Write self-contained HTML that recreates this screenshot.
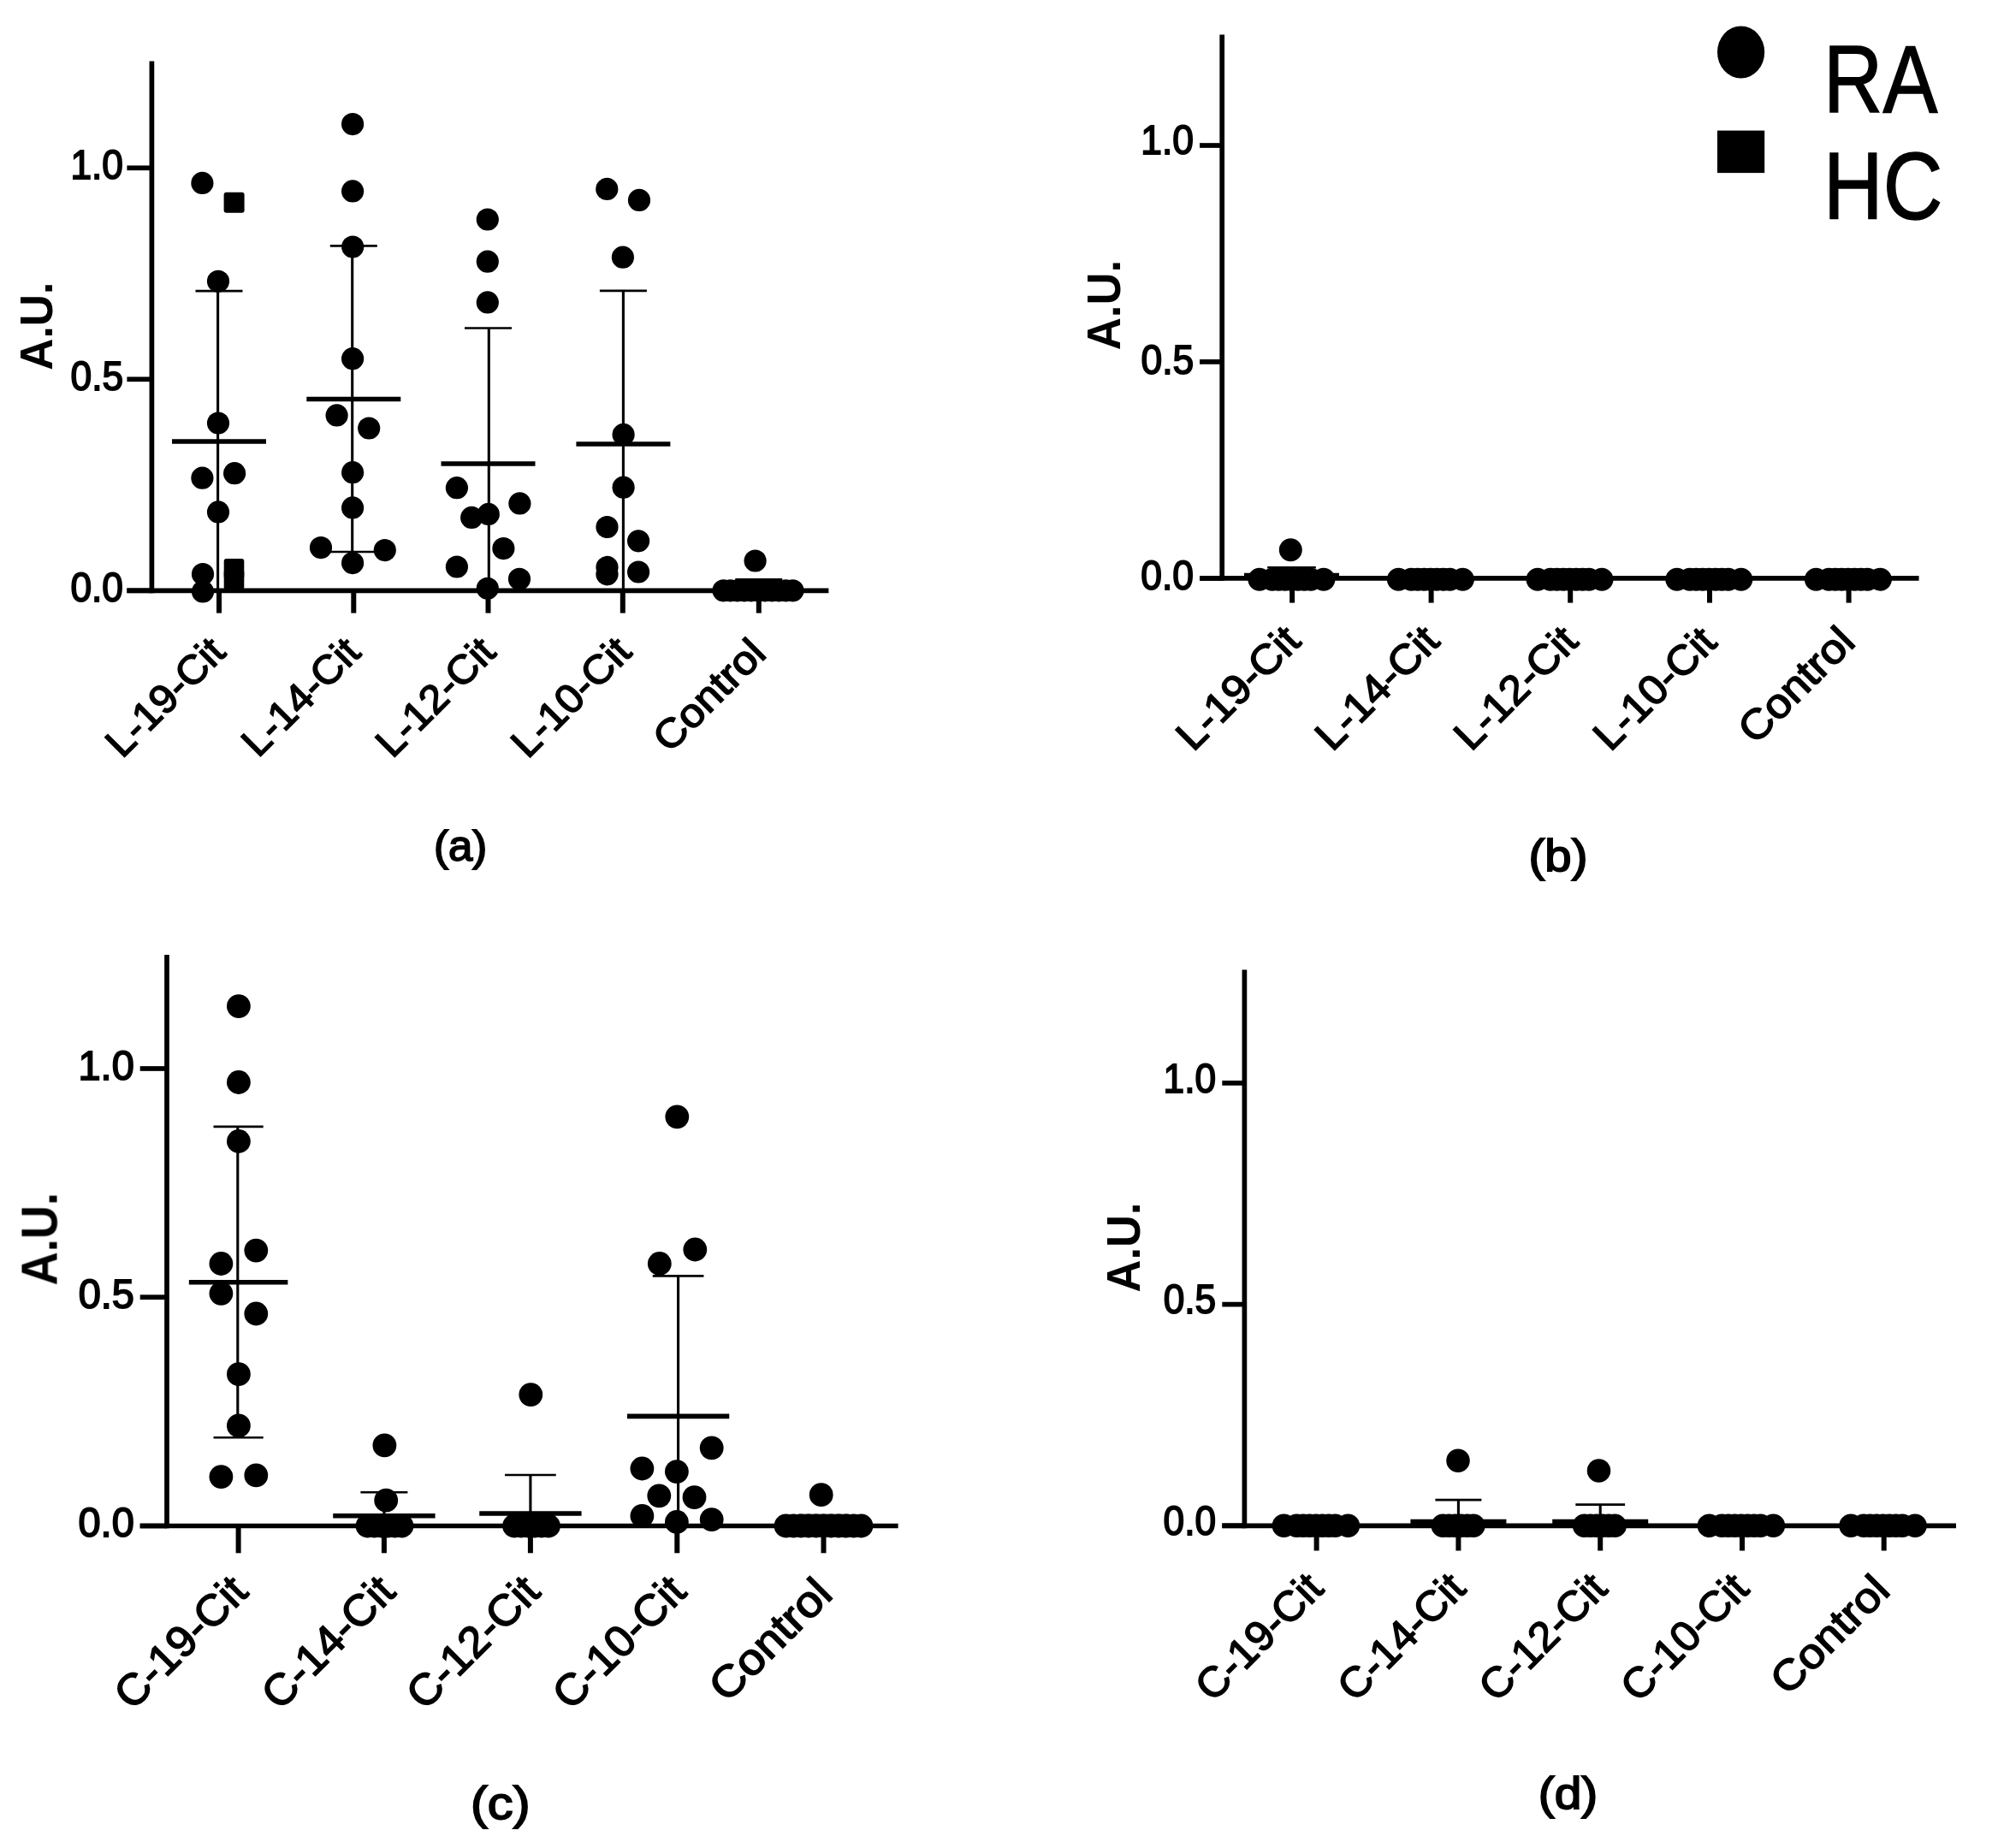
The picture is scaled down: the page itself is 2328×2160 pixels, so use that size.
<!DOCTYPE html>
<html lang="en"><head><meta charset="utf-8"><title>Figure</title>
<style>html,body{margin:0;padding:0;background:#fff}body{width:2328px;height:2160px;overflow:hidden}svg{display:block}text{font-kerning:none;white-space:pre}</style>
</head><body>
<svg width="2328" height="2160" viewBox="0 0 2328 2160" fill="#000">
<rect x="0" y="0" width="2328" height="2160" fill="#fff"/>
<defs><filter id="soft" x="0" y="0" width="100%" height="100%" filterUnits="userSpaceOnUse" color-interpolation-filters="sRGB"><feGaussianBlur stdDeviation="0.7"/></filter></defs>
<g filter="url(#soft)">
<g id="panel-a">
<line x1="177.4" y1="71.5" x2="177.4" y2="693.15" stroke="#000" stroke-width="5.7"/>
<line x1="148.4" y1="690.3" x2="968.4" y2="690.3" stroke="#000" stroke-width="5.7"/>
<line x1="148.4" y1="196.3" x2="177.4" y2="196.3" stroke="#000" stroke-width="5.7"/>
<text transform="translate(82.42,209.3) scale(0.9389,1)" font-family="Liberation Sans, Arial, Helvetica, sans-serif" font-size="47.2" stroke="#000" stroke-width="1.8">1.0</text>
<line x1="148.4" y1="443.3" x2="177.4" y2="443.3" stroke="#000" stroke-width="5.7"/>
<text transform="translate(82.55,456.3) scale(0.9389,1)" font-family="Liberation Sans, Arial, Helvetica, sans-serif" font-size="47.2" stroke="#000" stroke-width="1.8">0.5</text>
<line x1="148.4" y1="690.3" x2="177.4" y2="690.3" stroke="#000" stroke-width="5.7"/>
<text transform="translate(82.42,703.3) scale(0.9389,1)" font-family="Liberation Sans, Arial, Helvetica, sans-serif" font-size="47.2" stroke="#000" stroke-width="1.8">0.0</text>
<line x1="256" y1="690.3" x2="256" y2="716.6" stroke="#000" stroke-width="6"/>
<text transform="translate(142.81,887.57) rotate(-45) scale(1.0392,1)" font-family="Liberation Sans, Arial, Helvetica, sans-serif" font-size="47" stroke="#000" stroke-width="1.6">L-19-Cit</text>
<line x1="413.3" y1="690.3" x2="413.3" y2="716.6" stroke="#000" stroke-width="6"/>
<text transform="translate(301.63,886.75) rotate(-45) scale(1.0306,1)" font-family="Liberation Sans, Arial, Helvetica, sans-serif" font-size="47" stroke="#000" stroke-width="1.6">L-14-Cit</text>
<line x1="570.5" y1="690.3" x2="570.5" y2="716.6" stroke="#000" stroke-width="6"/>
<text transform="translate(458.5,887.48) rotate(-45) scale(1.0401,1)" font-family="Liberation Sans, Arial, Helvetica, sans-serif" font-size="47" stroke="#000" stroke-width="1.6">L-12-Cit</text>
<line x1="727.8" y1="690.3" x2="727.8" y2="716.6" stroke="#000" stroke-width="6"/>
<text transform="translate(616.74,887.94) rotate(-45) scale(1.0454,1)" font-family="Liberation Sans, Arial, Helvetica, sans-serif" font-size="47" stroke="#000" stroke-width="1.6">L-10-Cit</text>
<line x1="886.8" y1="690.3" x2="886.8" y2="716.6" stroke="#000" stroke-width="6"/>
<text transform="translate(782.43,881.22) rotate(-45) scale(1.0735,1)" font-family="Liberation Sans, Arial, Helvetica, sans-serif" font-size="47" stroke="#000" stroke-width="1.6">Control</text>
<text transform="translate(60.8,432.78) rotate(-90) scale(0.9470,1)" font-family="Liberation Sans, Arial, Helvetica, sans-serif" font-weight="bold" font-size="54.4">A.U.</text>
<text transform="translate(506.94,1006.4) scale(1.0098,1)" font-family="Liberation Sans, Arial, Helvetica, sans-serif" font-size="50.5" stroke="#000" stroke-width="1.8">(a)</text>
<line x1="228.5" y1="340.1" x2="283.5" y2="340.1" stroke="#000" stroke-width="2.6"/>
<line x1="254.6" y1="340.1" x2="254.6" y2="690.3" stroke="#000" stroke-width="3.1"/>
<line x1="201" y1="516" x2="311" y2="516" stroke="#000" stroke-width="5.6"/>
<line x1="385.8" y1="287.4" x2="440.8" y2="287.4" stroke="#000" stroke-width="2.6"/>
<line x1="385.8" y1="645" x2="440.8" y2="645" stroke="#000" stroke-width="2.6"/>
<line x1="411.7" y1="287.4" x2="411.7" y2="645" stroke="#000" stroke-width="3.1"/>
<line x1="358.3" y1="466.5" x2="468.3" y2="466.5" stroke="#000" stroke-width="5.6"/>
<line x1="543" y1="383.5" x2="598" y2="383.5" stroke="#000" stroke-width="2.6"/>
<line x1="571.3" y1="383.5" x2="571.3" y2="690.3" stroke="#000" stroke-width="3.1"/>
<line x1="515.5" y1="542" x2="625.5" y2="542" stroke="#000" stroke-width="5.6"/>
<line x1="700.9" y1="339.9" x2="755.9" y2="339.9" stroke="#000" stroke-width="2.6"/>
<line x1="728.4" y1="339.9" x2="728.4" y2="690.3" stroke="#000" stroke-width="3.1"/>
<line x1="673.4" y1="519" x2="783.4" y2="519" stroke="#000" stroke-width="5.6"/>
<line x1="859.3" y1="677.3" x2="914.3" y2="677.3" stroke="#000" stroke-width="2.6"/>
<line x1="886.8" y1="677.3" x2="886.8" y2="690.3" stroke="#000" stroke-width="3.1"/>
<line x1="836.8" y1="687" x2="936.8" y2="687" stroke="#000" stroke-width="5.6"/>
<circle cx="236.4" cy="213.9" r="13.1"/>
<circle cx="255" cy="328.8" r="13.1"/>
<circle cx="255" cy="494.5" r="13.1"/>
<circle cx="236.4" cy="558.7" r="13.1"/>
<circle cx="274.1" cy="553.2" r="13.1"/>
<circle cx="255" cy="598.4" r="13.1"/>
<circle cx="237" cy="671" r="13.1"/>
<circle cx="237" cy="691.5" r="13.1"/>
<circle cx="412.1" cy="145.1" r="13.1"/>
<circle cx="412.1" cy="223.4" r="13.1"/>
<circle cx="412.2" cy="288.5" r="13.1"/>
<circle cx="412.1" cy="419.2" r="13.1"/>
<circle cx="393.6" cy="485.4" r="13.1"/>
<circle cx="431.2" cy="500.5" r="13.1"/>
<circle cx="412.1" cy="552.2" r="13.1"/>
<circle cx="412.1" cy="593.4" r="13.1"/>
<circle cx="375" cy="640.1" r="13.1"/>
<circle cx="449.8" cy="643.1" r="13.1"/>
<circle cx="412.1" cy="658.1" r="13.1"/>
<circle cx="569.8" cy="256.5" r="13.1"/>
<circle cx="569.8" cy="305.7" r="13.1"/>
<circle cx="569.8" cy="353.4" r="13.1"/>
<circle cx="533.9" cy="570.2" r="13.1"/>
<circle cx="607.4" cy="588.4" r="13.1"/>
<circle cx="551.2" cy="604.9" r="13.1"/>
<circle cx="570.8" cy="600.9" r="13.1"/>
<circle cx="588.4" cy="641.1" r="13.1"/>
<circle cx="533.9" cy="662.5" r="13.1"/>
<circle cx="607" cy="676.8" r="13.1"/>
<circle cx="569.8" cy="687.8" r="13.1"/>
<circle cx="709.3" cy="220.9" r="13.1"/>
<circle cx="747" cy="233.9" r="13.1"/>
<circle cx="727.9" cy="300.7" r="13.1"/>
<circle cx="728.6" cy="507.9" r="13.1"/>
<circle cx="728.6" cy="569.7" r="13.1"/>
<circle cx="709.5" cy="616" r="13.1"/>
<circle cx="746.1" cy="632.3" r="13.1"/>
<circle cx="709.5" cy="662.9" r="13.1"/>
<circle cx="709.5" cy="671.3" r="13.1"/>
<circle cx="746.1" cy="668.5" r="13.1"/>
<circle cx="882.6" cy="655.5" r="13.1"/>
<circle cx="845.5" cy="690.3" r="13.1"/>
<circle cx="853.6" cy="690.3" r="13.1"/>
<circle cx="861.7" cy="690.3" r="13.1"/>
<circle cx="869.8" cy="690.3" r="13.1"/>
<circle cx="877.9" cy="690.3" r="13.1"/>
<circle cx="886" cy="690.3" r="13.1"/>
<circle cx="894.1" cy="690.3" r="13.1"/>
<circle cx="902.2" cy="690.3" r="13.1"/>
<circle cx="910.3" cy="690.3" r="13.1"/>
<circle cx="918.4" cy="690.3" r="13.1"/>
<circle cx="926.5" cy="690.3" r="13.1"/>
<rect x="261.6" y="224.8" width="24" height="24" rx="3"/>
<rect x="261.7" y="653" width="23.6" height="23.6" rx="3"/>
<rect x="261.7" y="665.7" width="23.6" height="23.6" rx="3"/>
</g>
<g id="panel-b">
<line x1="1428.2" y1="40.5" x2="1428.2" y2="678.75" stroke="#000" stroke-width="5.7"/>
<line x1="1402" y1="675.9" x2="2242.6" y2="675.9" stroke="#000" stroke-width="5.7"/>
<line x1="1402" y1="170" x2="1428.2" y2="170" stroke="#000" stroke-width="5.7"/>
<text transform="translate(1333.32,180.4) scale(0.9406,1)" font-family="Liberation Sans, Arial, Helvetica, sans-serif" font-size="47.2" stroke="#000" stroke-width="1.8">1.0</text>
<line x1="1402" y1="422.9" x2="1428.2" y2="422.9" stroke="#000" stroke-width="5.7"/>
<text transform="translate(1333.45,436.6) scale(0.9406,1)" font-family="Liberation Sans, Arial, Helvetica, sans-serif" font-size="47.2" stroke="#000" stroke-width="1.8">0.5</text>
<line x1="1402" y1="675.9" x2="1428.2" y2="675.9" stroke="#000" stroke-width="5.7"/>
<text transform="translate(1333.32,689.1) scale(0.9406,1)" font-family="Liberation Sans, Arial, Helvetica, sans-serif" font-size="47.2" stroke="#000" stroke-width="1.8">0.0</text>
<line x1="1510.1" y1="675.9" x2="1510.1" y2="704.6" stroke="#000" stroke-width="6"/>
<text transform="translate(1394.43,879.55) rotate(-45) scale(1.0504,1)" font-family="Liberation Sans, Arial, Helvetica, sans-serif" font-size="48.41" stroke="#000" stroke-width="1.6">L-19-Cit</text>
<line x1="1672.6" y1="675.9" x2="1672.6" y2="704.6" stroke="#000" stroke-width="6"/>
<text transform="translate(1556.94,879.44) rotate(-45) scale(1.0487,1)" font-family="Liberation Sans, Arial, Helvetica, sans-serif" font-size="48.41" stroke="#000" stroke-width="1.6">L-14-Cit</text>
<line x1="1835.2" y1="675.9" x2="1835.2" y2="704.6" stroke="#000" stroke-width="6"/>
<text transform="translate(1719.33,879.21) rotate(-45) scale(1.0448,1)" font-family="Liberation Sans, Arial, Helvetica, sans-serif" font-size="48.41" stroke="#000" stroke-width="1.6">L-12-Cit</text>
<line x1="1998" y1="675.9" x2="1998" y2="704.6" stroke="#000" stroke-width="6"/>
<text transform="translate(1882.05,879.39) rotate(-45) scale(1.0381,1)" font-family="Liberation Sans, Arial, Helvetica, sans-serif" font-size="48.41" stroke="#000" stroke-width="1.6">L-10-Cit</text>
<line x1="2160.6" y1="675.9" x2="2160.6" y2="704.6" stroke="#000" stroke-width="6"/>
<text transform="translate(2051.24,871.55) rotate(-45) scale(1.0773,1)" font-family="Liberation Sans, Arial, Helvetica, sans-serif" font-size="48.41" stroke="#000" stroke-width="1.6">Control</text>
<text transform="translate(1308.9,409.21) rotate(-90) scale(0.9551,1)" font-family="Liberation Sans, Arial, Helvetica, sans-serif" font-weight="bold" font-size="55.2">A.U.</text>
<text transform="translate(1786.61,1018) scale(1.0822,1)" font-family="Liberation Sans, Arial, Helvetica, sans-serif" font-size="52" stroke="#000" stroke-width="1.8">(b)</text>
<line x1="1481.17" y1="663.2" x2="1537.83" y2="663.2" stroke="#000" stroke-width="2.6"/>
<line x1="1509.5" y1="663.2" x2="1509.5" y2="675.9" stroke="#000" stroke-width="3.1"/>
<line x1="1454" y1="672.6" x2="1565" y2="672.6" stroke="#000" stroke-width="5.6"/>
<circle cx="1508.3" cy="642.7" r="13.49"/>
<circle cx="1471.9" cy="677.2" r="13.49"/>
<circle cx="1486.9" cy="677.2" r="13.49"/>
<circle cx="1494.4" cy="677.2" r="13.49"/>
<circle cx="1501.9" cy="677.2" r="13.49"/>
<circle cx="1509.4" cy="677.2" r="13.49"/>
<circle cx="1516.9" cy="677.2" r="13.49"/>
<circle cx="1524.4" cy="677.2" r="13.49"/>
<circle cx="1531.9" cy="677.2" r="13.49"/>
<circle cx="1546.9" cy="677.2" r="13.49"/>
<circle cx="1634.4" cy="677.2" r="13.49"/>
<circle cx="1649.4" cy="677.2" r="13.49"/>
<circle cx="1656.9" cy="677.2" r="13.49"/>
<circle cx="1664.4" cy="677.2" r="13.49"/>
<circle cx="1671.9" cy="677.2" r="13.49"/>
<circle cx="1679.4" cy="677.2" r="13.49"/>
<circle cx="1686.9" cy="677.2" r="13.49"/>
<circle cx="1694.4" cy="677.2" r="13.49"/>
<circle cx="1709.4" cy="677.2" r="13.49"/>
<circle cx="1797" cy="677.2" r="13.49"/>
<circle cx="1812" cy="677.2" r="13.49"/>
<circle cx="1819.5" cy="677.2" r="13.49"/>
<circle cx="1827" cy="677.2" r="13.49"/>
<circle cx="1834.5" cy="677.2" r="13.49"/>
<circle cx="1842" cy="677.2" r="13.49"/>
<circle cx="1849.5" cy="677.2" r="13.49"/>
<circle cx="1857" cy="677.2" r="13.49"/>
<circle cx="1872" cy="677.2" r="13.49"/>
<circle cx="1959.8" cy="677.2" r="13.49"/>
<circle cx="1974.8" cy="677.2" r="13.49"/>
<circle cx="1982.3" cy="677.2" r="13.49"/>
<circle cx="1989.8" cy="677.2" r="13.49"/>
<circle cx="1997.3" cy="677.2" r="13.49"/>
<circle cx="2004.8" cy="677.2" r="13.49"/>
<circle cx="2012.3" cy="677.2" r="13.49"/>
<circle cx="2019.8" cy="677.2" r="13.49"/>
<circle cx="2034.8" cy="677.2" r="13.49"/>
<circle cx="2122.4" cy="677.2" r="13.49"/>
<circle cx="2137.4" cy="677.2" r="13.49"/>
<circle cx="2144.9" cy="677.2" r="13.49"/>
<circle cx="2152.4" cy="677.2" r="13.49"/>
<circle cx="2159.9" cy="677.2" r="13.49"/>
<circle cx="2167.4" cy="677.2" r="13.49"/>
<circle cx="2174.9" cy="677.2" r="13.49"/>
<circle cx="2182.4" cy="677.2" r="13.49"/>
<circle cx="2197.4" cy="677.2" r="13.49"/>
</g>
<g id="panel-c">
<line x1="195" y1="1116" x2="195" y2="1786.35" stroke="#000" stroke-width="5.7"/>
<line x1="163.7" y1="1783.5" x2="1049.6" y2="1783.5" stroke="#000" stroke-width="5.7"/>
<line x1="163.7" y1="1249" x2="195" y2="1249" stroke="#000" stroke-width="5.7"/>
<text transform="translate(91.53,1261.7) scale(0.9896,1)" font-family="Liberation Sans, Arial, Helvetica, sans-serif" font-size="47.4" stroke="#000" stroke-width="1.8">1.0</text>
<line x1="163.7" y1="1516.2" x2="195" y2="1516.2" stroke="#000" stroke-width="5.7"/>
<text transform="translate(91.66,1528.9) scale(0.9896,1)" font-family="Liberation Sans, Arial, Helvetica, sans-serif" font-size="47.4" stroke="#000" stroke-width="1.8">0.5</text>
<line x1="163.7" y1="1783.5" x2="195" y2="1783.5" stroke="#000" stroke-width="5.7"/>
<text transform="translate(91.53,1796.2) scale(0.9896,1)" font-family="Liberation Sans, Arial, Helvetica, sans-serif" font-size="47.4" stroke="#000" stroke-width="1.8">0.0</text>
<line x1="278.6" y1="1783.5" x2="278.6" y2="1815.3" stroke="#000" stroke-width="6"/>
<text transform="translate(154.43,2000.51) rotate(-45) scale(1.0243,1)" font-family="Liberation Sans, Arial, Helvetica, sans-serif" font-size="50.99" stroke="#000" stroke-width="1.6">C-19-Cit</text>
<line x1="448.9" y1="1783.5" x2="448.9" y2="1815.3" stroke="#000" stroke-width="6"/>
<text transform="translate(326.73,2000.51) rotate(-45) scale(1.0243,1)" font-family="Liberation Sans, Arial, Helvetica, sans-serif" font-size="50.99" stroke="#000" stroke-width="1.6">C-14-Cit</text>
<line x1="619.9" y1="1783.5" x2="619.9" y2="1815.3" stroke="#000" stroke-width="6"/>
<text transform="translate(495.95,2000.54) rotate(-45) scale(1.0247,1)" font-family="Liberation Sans, Arial, Helvetica, sans-serif" font-size="50.99" stroke="#000" stroke-width="1.6">C-12-Cit</text>
<line x1="791.3" y1="1783.5" x2="791.3" y2="1815.3" stroke="#000" stroke-width="6"/>
<text transform="translate(666.68,2000.56) rotate(-45) scale(1.0251,1)" font-family="Liberation Sans, Arial, Helvetica, sans-serif" font-size="50.99" stroke="#000" stroke-width="1.6">C-10-Cit</text>
<line x1="962.5" y1="1783.5" x2="962.5" y2="1815.3" stroke="#000" stroke-width="6"/>
<text transform="translate(849.38,1991.62) rotate(-45) scale(1.0815,1)" font-family="Liberation Sans, Arial, Helvetica, sans-serif" font-size="50.99" stroke="#000" stroke-width="1.6">Control</text>
<text transform="translate(66.5,1502.45) rotate(-90) scale(0.9306,1)" font-family="Liberation Sans, Arial, Helvetica, sans-serif" font-weight="bold" font-size="58.4">A.U.</text>
<text transform="translate(550,2126.1) scale(1.0935,1)" font-family="Liberation Sans, Arial, Helvetica, sans-serif" font-size="54.5" stroke="#000" stroke-width="1.8">(c)</text>
<line x1="249.5" y1="1316.9" x2="307.7" y2="1316.9" stroke="#000" stroke-width="2.6"/>
<line x1="249.5" y1="1680.2" x2="307.7" y2="1680.2" stroke="#000" stroke-width="2.6"/>
<line x1="277.8" y1="1316.9" x2="277.8" y2="1680.2" stroke="#000" stroke-width="3.1"/>
<line x1="220.85" y1="1498.8" x2="336.35" y2="1498.8" stroke="#000" stroke-width="5.6"/>
<line x1="421.4" y1="1744.3" x2="476.4" y2="1744.3" stroke="#000" stroke-width="2.6"/>
<line x1="448.9" y1="1744.3" x2="448.9" y2="1783.5" stroke="#000" stroke-width="3.1"/>
<line x1="389.22" y1="1771.8" x2="508.57" y2="1771.8" stroke="#000" stroke-width="5.6"/>
<line x1="590.06" y1="1724" x2="649.74" y2="1724" stroke="#000" stroke-width="2.6"/>
<line x1="619.9" y1="1724" x2="619.9" y2="1783.5" stroke="#000" stroke-width="3.1"/>
<line x1="560.23" y1="1769" x2="679.57" y2="1769" stroke="#000" stroke-width="5.6"/>
<line x1="762.76" y1="1491.4" x2="822.44" y2="1491.4" stroke="#000" stroke-width="2.6"/>
<line x1="792.6" y1="1491.4" x2="792.6" y2="1783.5" stroke="#000" stroke-width="3.1"/>
<line x1="732.92" y1="1655.4" x2="852.27" y2="1655.4" stroke="#000" stroke-width="5.6"/>
<line x1="932.66" y1="1771" x2="992.34" y2="1771" stroke="#000" stroke-width="2.6"/>
<line x1="962.5" y1="1771" x2="962.5" y2="1783.5" stroke="#000" stroke-width="3.1"/>
<line x1="907.5" y1="1778" x2="1017.5" y2="1778" stroke="#000" stroke-width="5.6"/>
<circle cx="278.9" cy="1176.1" r="13.9"/>
<circle cx="278.9" cy="1265" r="13.9"/>
<circle cx="278.9" cy="1334" r="13.9"/>
<circle cx="258.4" cy="1477" r="13.9"/>
<circle cx="299.3" cy="1461.6" r="13.9"/>
<circle cx="258.4" cy="1511.8" r="13.9"/>
<circle cx="299.3" cy="1535.5" r="13.9"/>
<circle cx="278.9" cy="1606.2" r="13.9"/>
<circle cx="278.9" cy="1666.4" r="13.9"/>
<circle cx="258.4" cy="1726.1" r="13.9"/>
<circle cx="299.3" cy="1724.4" r="13.9"/>
<circle cx="449.4" cy="1689.4" r="13.9"/>
<circle cx="451.2" cy="1753.7" r="13.9"/>
<circle cx="429.5" cy="1783.5" r="13.9"/>
<circle cx="437.5" cy="1783.5" r="13.9"/>
<circle cx="445.5" cy="1783.5" r="13.9"/>
<circle cx="453.5" cy="1783.5" r="13.9"/>
<circle cx="461.5" cy="1783.5" r="13.9"/>
<circle cx="469.5" cy="1783.5" r="13.9"/>
<circle cx="620.3" cy="1630.1" r="13.9"/>
<circle cx="601" cy="1783.5" r="13.9"/>
<circle cx="609" cy="1783.5" r="13.9"/>
<circle cx="617" cy="1783.5" r="13.9"/>
<circle cx="625" cy="1783.5" r="13.9"/>
<circle cx="633" cy="1783.5" r="13.9"/>
<circle cx="641" cy="1783.5" r="13.9"/>
<circle cx="791.3" cy="1305.3" r="13.9"/>
<circle cx="770.8" cy="1477" r="13.9"/>
<circle cx="812.3" cy="1460.5" r="13.9"/>
<circle cx="831.7" cy="1692.3" r="13.9"/>
<circle cx="750.4" cy="1716.5" r="13.9"/>
<circle cx="790.9" cy="1720.1" r="13.9"/>
<circle cx="770.3" cy="1748.3" r="13.9"/>
<circle cx="811.5" cy="1750.1" r="13.9"/>
<circle cx="750.4" cy="1771.8" r="13.9"/>
<circle cx="790.9" cy="1779" r="13.9"/>
<circle cx="831.7" cy="1776.1" r="13.9"/>
<circle cx="959.7" cy="1747.2" r="13.9"/>
<circle cx="918.5" cy="1783.5" r="13.9"/>
<circle cx="927.3" cy="1783.5" r="13.9"/>
<circle cx="936.1" cy="1783.5" r="13.9"/>
<circle cx="944.9" cy="1783.5" r="13.9"/>
<circle cx="953.7" cy="1783.5" r="13.9"/>
<circle cx="962.5" cy="1783.5" r="13.9"/>
<circle cx="971.3" cy="1783.5" r="13.9"/>
<circle cx="980.1" cy="1783.5" r="13.9"/>
<circle cx="988.9" cy="1783.5" r="13.9"/>
<circle cx="997.7" cy="1783.5" r="13.9"/>
<circle cx="1006.5" cy="1783.5" r="13.9"/>
</g>
<g id="panel-d">
<line x1="1454.4" y1="1133.6" x2="1454.4" y2="1786.15" stroke="#000" stroke-width="5.7"/>
<line x1="1428.3" y1="1783.3" x2="2286" y2="1783.3" stroke="#000" stroke-width="5.7"/>
<line x1="1428.3" y1="1265.9" x2="1454.4" y2="1265.9" stroke="#000" stroke-width="5.7"/>
<text transform="translate(1359.53,1276.6) scale(0.9373,1)" font-family="Liberation Sans, Arial, Helvetica, sans-serif" font-size="47.2" stroke="#000" stroke-width="1.8">1.0</text>
<line x1="1428.3" y1="1524.6" x2="1454.4" y2="1524.6" stroke="#000" stroke-width="5.7"/>
<text transform="translate(1359.66,1535.3) scale(0.9373,1)" font-family="Liberation Sans, Arial, Helvetica, sans-serif" font-size="47.2" stroke="#000" stroke-width="1.8">0.5</text>
<line x1="1428.3" y1="1783.3" x2="1454.4" y2="1783.3" stroke="#000" stroke-width="5.7"/>
<text transform="translate(1359.53,1794) scale(0.9373,1)" font-family="Liberation Sans, Arial, Helvetica, sans-serif" font-size="47.2" stroke="#000" stroke-width="1.8">0.0</text>
<line x1="1538.6" y1="1783.3" x2="1538.6" y2="1812.5" stroke="#000" stroke-width="6"/>
<text transform="translate(1417.28,1990.7) rotate(-45) scale(1.0123,1)" font-family="Liberation Sans, Arial, Helvetica, sans-serif" font-size="49.35" stroke="#000" stroke-width="1.6">C-19-Cit</text>
<line x1="1704.4" y1="1783.3" x2="1704.4" y2="1812.5" stroke="#000" stroke-width="6"/>
<text transform="translate(1583.39,1990.84) rotate(-45) scale(1.0144,1)" font-family="Liberation Sans, Arial, Helvetica, sans-serif" font-size="49.35" stroke="#000" stroke-width="1.6">C-14-Cit</text>
<line x1="1870.2" y1="1783.3" x2="1870.2" y2="1812.5" stroke="#000" stroke-width="6"/>
<text transform="translate(1748.84,1991.04) rotate(-45) scale(1.0144,1)" font-family="Liberation Sans, Arial, Helvetica, sans-serif" font-size="49.35" stroke="#000" stroke-width="1.6">C-12-Cit</text>
<line x1="2036" y1="1783.3" x2="2036" y2="1812.5" stroke="#000" stroke-width="6"/>
<text transform="translate(1914.39,1991.29) rotate(-45) scale(1.0144,1)" font-family="Liberation Sans, Arial, Helvetica, sans-serif" font-size="49.35" stroke="#000" stroke-width="1.6">C-10-Cit</text>
<line x1="2201.7" y1="1783.3" x2="2201.7" y2="1812.5" stroke="#000" stroke-width="6"/>
<text transform="translate(2089.36,1983.14) rotate(-45) scale(1.0813,1)" font-family="Liberation Sans, Arial, Helvetica, sans-serif" font-size="49.35" stroke="#000" stroke-width="1.6">Control</text>
<text transform="translate(1332,1510.41) rotate(-90) scale(0.9573,1)" font-family="Liberation Sans, Arial, Helvetica, sans-serif" font-weight="bold" font-size="54.8">A.U.</text>
<text transform="translate(1797.78,2114.4) scale(1.0823,1)" font-family="Liberation Sans, Arial, Helvetica, sans-serif" font-size="52.5" stroke="#000" stroke-width="1.8">(d)</text>
<line x1="1677.4" y1="1753.1" x2="1731.4" y2="1753.1" stroke="#000" stroke-width="2.6"/>
<line x1="1704.4" y1="1753.1" x2="1704.4" y2="1783.3" stroke="#000" stroke-width="3.1"/>
<line x1="1648.4" y1="1778.5" x2="1760.4" y2="1778.5" stroke="#000" stroke-width="5.6"/>
<line x1="1841.33" y1="1758.6" x2="1899.08" y2="1758.6" stroke="#000" stroke-width="2.6"/>
<line x1="1870.2" y1="1758.6" x2="1870.2" y2="1783.3" stroke="#000" stroke-width="3.1"/>
<line x1="1814.2" y1="1778.5" x2="1926.2" y2="1778.5" stroke="#000" stroke-width="5.6"/>
<circle cx="1704" cy="1707.3" r="13.76"/>
<circle cx="1868.5" cy="1718.9" r="13.76"/>
<circle cx="1500.4" cy="1783.3" r="13.76"/>
<circle cx="1515.4" cy="1783.3" r="13.76"/>
<circle cx="1522.9" cy="1783.3" r="13.76"/>
<circle cx="1530.4" cy="1783.3" r="13.76"/>
<circle cx="1537.9" cy="1783.3" r="13.76"/>
<circle cx="1545.4" cy="1783.3" r="13.76"/>
<circle cx="1552.9" cy="1783.3" r="13.76"/>
<circle cx="1560.4" cy="1783.3" r="13.76"/>
<circle cx="1575.4" cy="1783.3" r="13.76"/>
<circle cx="1686.3" cy="1783.3" r="13.76"/>
<circle cx="1693.42" cy="1783.3" r="13.76"/>
<circle cx="1700.54" cy="1783.3" r="13.76"/>
<circle cx="1707.66" cy="1783.3" r="13.76"/>
<circle cx="1714.78" cy="1783.3" r="13.76"/>
<circle cx="1721.9" cy="1783.3" r="13.76"/>
<circle cx="1851.6" cy="1783.3" r="13.76"/>
<circle cx="1858.72" cy="1783.3" r="13.76"/>
<circle cx="1865.84" cy="1783.3" r="13.76"/>
<circle cx="1872.96" cy="1783.3" r="13.76"/>
<circle cx="1880.08" cy="1783.3" r="13.76"/>
<circle cx="1887.2" cy="1783.3" r="13.76"/>
<circle cx="1997.4" cy="1783.3" r="13.76"/>
<circle cx="2012.4" cy="1783.3" r="13.76"/>
<circle cx="2019.9" cy="1783.3" r="13.76"/>
<circle cx="2027.4" cy="1783.3" r="13.76"/>
<circle cx="2034.9" cy="1783.3" r="13.76"/>
<circle cx="2042.4" cy="1783.3" r="13.76"/>
<circle cx="2049.9" cy="1783.3" r="13.76"/>
<circle cx="2057.4" cy="1783.3" r="13.76"/>
<circle cx="2072.4" cy="1783.3" r="13.76"/>
<circle cx="2163.1" cy="1783.3" r="13.76"/>
<circle cx="2178.1" cy="1783.3" r="13.76"/>
<circle cx="2185.6" cy="1783.3" r="13.76"/>
<circle cx="2193.1" cy="1783.3" r="13.76"/>
<circle cx="2200.6" cy="1783.3" r="13.76"/>
<circle cx="2208.1" cy="1783.3" r="13.76"/>
<circle cx="2215.6" cy="1783.3" r="13.76"/>
<circle cx="2223.1" cy="1783.3" r="13.76"/>
<circle cx="2238.1" cy="1783.3" r="13.76"/>
</g>
<g id="legend">
<ellipse cx="2034.6" cy="61" rx="27.6" ry="30.5"/>
<rect x="2007" y="152.6" width="55.2" height="49.5"/>
<text transform="translate(2131.12,131.3) scale(0.8649,1)" font-family="Liberation Sans, Arial, Helvetica, sans-serif" font-size="111" stroke="#000" stroke-width="1.4">RA</text>
<text transform="translate(2131.08,256) scale(0.8695,1)" font-family="Liberation Sans, Arial, Helvetica, sans-serif" font-size="111" stroke="#000" stroke-width="1.4">HC</text>
</g>
</g>
</svg></body></html>
